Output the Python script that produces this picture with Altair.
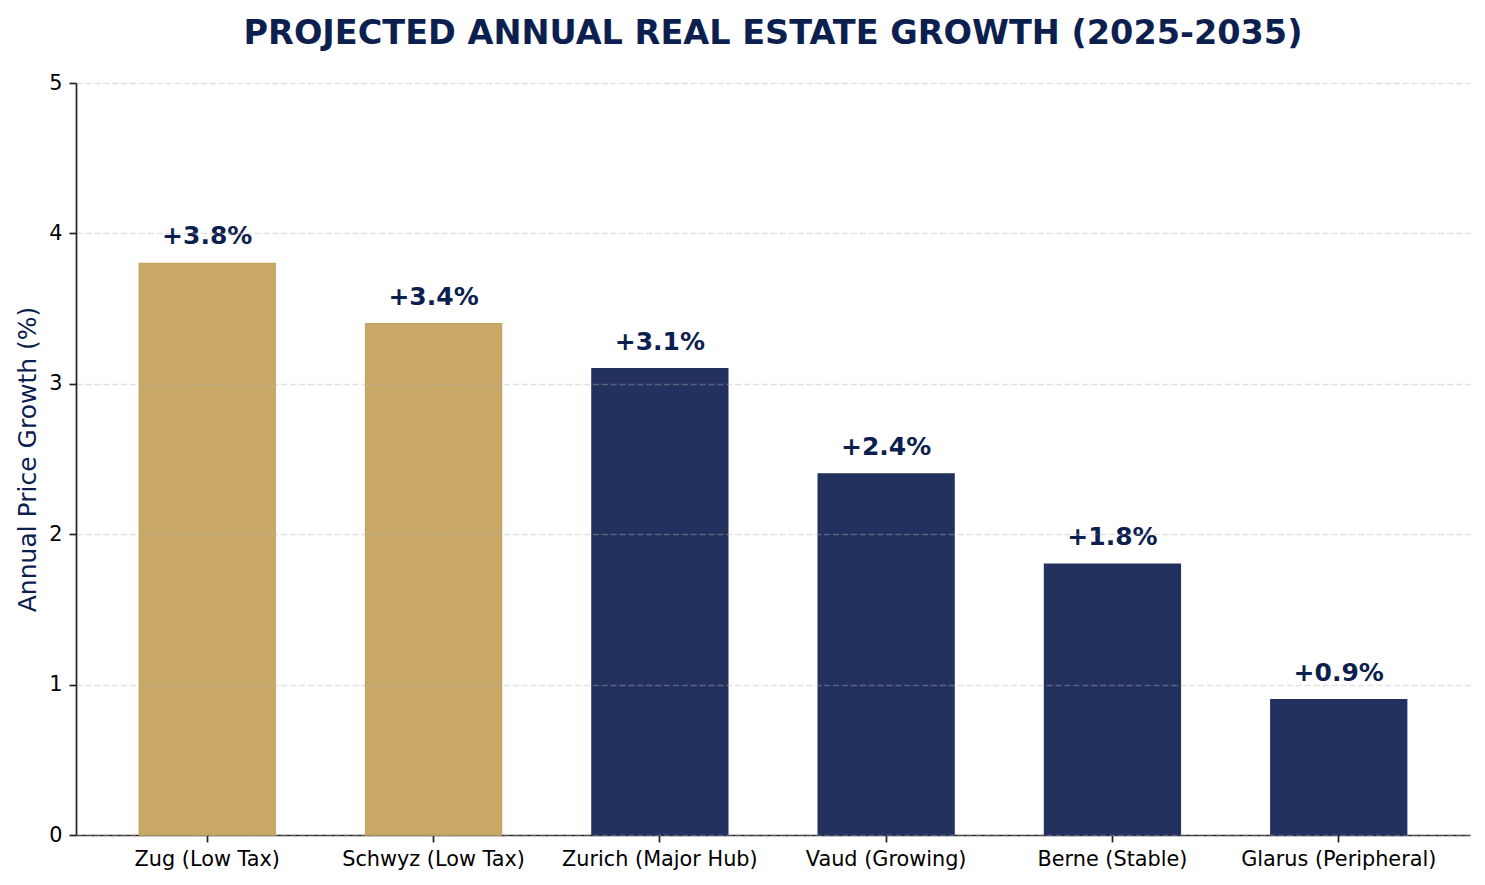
import altair as alt
import pandas as pd

regions = ["Zug (Low Tax)", "Schwyz (Low Tax)", "Zurich (Major Hub)", "Vaud (Growing)", "Berne (Stable)", "Glarus (Peripheral)"]
growth = [3.8, 3.4, 3.1, 2.4, 1.8, 0.9]
groups = ["Low Tax", "Low Tax", "Other", "Other", "Other", "Other"]
labels = ["+3.8%", "+3.4%", "+3.1%", "+2.4%", "+1.8%", "+0.9%"]

df = pd.DataFrame({"region": regions, "growth": growth, "group": groups, "label": labels})

NAVY_TEXT = "#0c1f4f"
FONT = "DejaVu Sans"

x = alt.X("region:N", sort=regions, title=None,
          scale=alt.Scale(paddingInner=0.4, paddingOuter=0.28),
          axis=alt.Axis(labelAngle=0, labelFontSize=20.8, labelColor="#000000", labelFont=FONT,
                        labelLimit=1000,
                        tickSize=7, tickWidth=1.7, tickColor="#222222", labelPadding=7,
                        domainColor="#222222", domainWidth=1.7, grid=False))
y = alt.Y("growth:Q", title="Annual Price Growth (%)",
          scale=alt.Scale(domain=[0, 5], nice=False),
          axis=alt.Axis(values=[0, 1, 2, 3, 4, 5], format="d", labelFontSize=20.8, labelColor="#000000",
                        labelFont=FONT, tickSize=7, tickWidth=1.7, tickColor="#222222", labelPadding=7,
                        domainColor="#222222", domainWidth=1.7,
                        titleFontSize=25, titleFont=FONT, titleFontWeight="normal", titleColor=NAVY_TEXT,
                        titlePadding=8, grid=True, gridColor="#b0b0b0", gridOpacity=0.38,
                        gridDash=[6.2, 2.7], gridWidth=1.7, zindex=1))

bars = alt.Chart(df).mark_bar(strokeWidth=1.5).encode(
    x=x, y=y,
    color=alt.Color("group:N", legend=None,
                    scale=alt.Scale(domain=["Low Tax", "Other"], range=["#c9a868", "#23315e"])),
    stroke=alt.Stroke("group:N", legend=None,
                      scale=alt.Scale(domain=["Low Tax", "Other"], range=["#c6a35a", "#23315e"])),
)

text = alt.Chart(df).mark_text(font=FONT, fontSize=25, fontWeight="bold", color=NAVY_TEXT,
                               baseline="alphabetic", dy=-19).encode(
    x=alt.X("region:N", sort=regions),
    y=alt.Y("growth:Q"),
    text="label:N",
)

chart = alt.layer(bars, text).properties(
    width=1394, height=752,
    padding={"left": 7, "top": 8, "right": 5, "bottom": 5},
    title=alt.TitleParams("PROJECTED ANNUAL REAL ESTATE GROWTH (2025-2035)", font=FONT, fontSize=33.5,
                          fontWeight="bold", color=NAVY_TEXT, anchor="middle", offset=21),
).configure(font=FONT).configure_view(strokeWidth=0, stroke="transparent").configure_axisX(grid=False)

chart.save("out.html", embed_options={"renderer": "svg", "actions": False})
